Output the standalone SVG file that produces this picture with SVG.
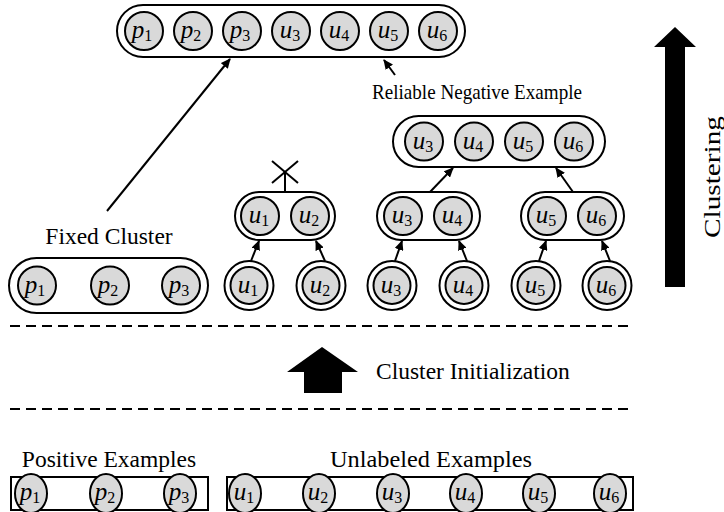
<svg xmlns="http://www.w3.org/2000/svg" width="724" height="512" viewBox="0 0 724 512">
<style>
.n{fill:#d9d9d9;stroke:#000;stroke-width:2}
.o{fill:#fff;stroke:#000;stroke-width:2}
.b{fill:none;stroke:#000;stroke-width:2}
.t{font-family:"Liberation Serif","Times New Roman",serif;font-size:23.5px;fill:#000}
.r{font-size:22px}
.v{font-family:"Liberation Serif","Times New Roman",serif;font-size:25px;font-style:italic;fill:#000;text-anchor:middle}
.s{font-style:normal;font-size:16px}
.d{stroke:#000;stroke-width:2;stroke-dasharray:10,6;fill:none}
.a{stroke:#000;stroke-width:2;fill:none;marker-end:url(#ah)}
</style>
<defs>
<marker id="ah" markerWidth="10" markerHeight="9" refX="9" refY="4.5" orient="auto" markerUnits="userSpaceOnUse"><path d="M0,0 L10,4.5 L0,9 z" fill="#000"/></marker>
<g id="c"><circle r="19" class="n"/></g>
<g id="dc"><circle r="24.5" class="o"/><circle r="18.5" class="n"/></g>
<g id="e"><ellipse rx="16" ry="19.5" class="n"/></g>
</defs>

<g id="top-cluster">
<rect x="117" y="5" width="348" height="52" rx="26" class="o"/>
<use href="#c" x="144" y="31"/><text class="v" x="142" y="38">p<tspan class="s" dy="3">1</tspan></text>
<use href="#c" x="193" y="31"/><text class="v" x="191" y="38">p<tspan class="s" dy="3">2</tspan></text>
<use href="#c" x="242" y="31"/><text class="v" x="240" y="38">p<tspan class="s" dy="3">3</tspan></text>
<use href="#c" x="291" y="31"/><text class="v" x="290" y="38">u<tspan class="s" dy="3">3</tspan></text>
<use href="#c" x="340" y="31"/><text class="v" x="339" y="38">u<tspan class="s" dy="3">4</tspan></text>
<use href="#c" x="389" y="31"/><text class="v" x="388" y="38">u<tspan class="s" dy="3">5</tspan></text>
<use href="#c" x="438" y="31"/><text class="v" x="437" y="38">u<tspan class="s" dy="3">6</tspan></text>
</g>

<g id="label-rne"><text class="t r" x="372" y="99" textLength="210" lengthAdjust="spacingAndGlyphs">Reliable Negative Example</text></g>

<g id="rne-cluster">
<rect x="393" y="116" width="212" height="51" rx="25.5" class="o"/>
<use href="#c" x="424" y="141.5"/><text class="v" x="423" y="148.5">u<tspan class="s" dy="3">3</tspan></text>
<use href="#c" x="474" y="141.5"/><text class="v" x="473" y="148.5">u<tspan class="s" dy="3">4</tspan></text>
<use href="#c" x="524" y="141.5"/><text class="v" x="523" y="148.5">u<tspan class="s" dy="3">5</tspan></text>
<use href="#c" x="574" y="141.5"/><text class="v" x="573" y="148.5">u<tspan class="s" dy="3">6</tspan></text>
</g>

<g id="pair-u1u2">
<rect x="235" y="192" width="100" height="48" rx="24" class="o"/>
<use href="#c" x="260" y="216"/><text class="v" x="259" y="223">u<tspan class="s" dy="3">1</tspan></text>
<use href="#c" x="310" y="216"/><text class="v" x="309" y="223">u<tspan class="s" dy="3">2</tspan></text>
</g>
<g id="pair-u3u4">
<rect x="377" y="192" width="103" height="48" rx="24" class="o"/>
<use href="#c" x="403" y="216"/><text class="v" x="402" y="223">u<tspan class="s" dy="3">3</tspan></text>
<use href="#c" x="453" y="216"/><text class="v" x="452" y="223">u<tspan class="s" dy="3">4</tspan></text>
</g>
<g id="pair-u5u6">
<rect x="521" y="192" width="103" height="48" rx="24" class="o"/>
<use href="#c" x="547" y="216"/><text class="v" x="546" y="223">u<tspan class="s" dy="3">5</tspan></text>
<use href="#c" x="597" y="216"/><text class="v" x="596" y="223">u<tspan class="s" dy="3">6</tspan></text>
</g>

<g id="label-fixed"><text class="t" x="109" y="244" text-anchor="middle">Fixed Cluster</text></g>
<g id="fixed-cluster">
<rect x="9" y="258" width="199" height="55" rx="27.5" class="o"/>
<use href="#c" x="37" y="285.5"/><text class="v" x="35" y="292.5">p<tspan class="s" dy="3">1</tspan></text>
<use href="#c" x="110" y="285.5"/><text class="v" x="108" y="292.5">p<tspan class="s" dy="3">2</tspan></text>
<use href="#c" x="181" y="285.5"/><text class="v" x="179" y="292.5">p<tspan class="s" dy="3">3</tspan></text>
</g>

<g id="single-u1"><use href="#dc" x="249" y="285.5"/><text class="v" x="248" y="292.5">u<tspan class="s" dy="3">1</tspan></text></g>
<g id="single-u2"><use href="#dc" x="321" y="285.5"/><text class="v" x="320" y="292.5">u<tspan class="s" dy="3">2</tspan></text></g>
<g id="single-u3"><use href="#dc" x="392" y="285.5"/><text class="v" x="391" y="292.5">u<tspan class="s" dy="3">3</tspan></text></g>
<g id="single-u4"><use href="#dc" x="464" y="285.5"/><text class="v" x="463" y="292.5">u<tspan class="s" dy="3">4</tspan></text></g>
<g id="single-u5"><use href="#dc" x="536" y="285.5"/><text class="v" x="535" y="292.5">u<tspan class="s" dy="3">5</tspan></text></g>
<g id="single-u6"><use href="#dc" x="607" y="285.5"/><text class="v" x="606" y="292.5">u<tspan class="s" dy="3">6</tspan></text></g>

<g id="connectors">
<line class="a" x1="107" y1="211" x2="230" y2="59"/>
<line class="a" x1="395" y1="75" x2="384" y2="60"/>
<line class="a" x1="430" y1="192" x2="453" y2="168"/>
<line class="a" x1="573" y1="192" x2="556" y2="168"/>
<line class="a" x1="251" y1="261" x2="259" y2="241"/>
<line class="a" x1="325" y1="261" x2="316" y2="241"/>
<line class="a" x1="395" y1="261" x2="402" y2="241"/>
<line class="a" x1="467" y1="261" x2="459" y2="241"/>
<line class="a" x1="539" y1="261" x2="546" y2="241"/>
<line class="a" x1="610" y1="261" x2="602" y2="241"/>
<line class="b" x1="285" y1="192" x2="285" y2="172"/>
<line class="b" x1="272" y1="161" x2="298" y2="183"/>
<line class="b" x1="272" y1="183" x2="298" y2="161"/>
</g>

<g id="dividers">
<line class="d" x1="10" y1="326" x2="632" y2="326"/>
<line class="d" x1="10" y1="409" x2="632" y2="409"/>
</g>

<g id="cluster-init">
<polygon points="322,347 358,372 342,372 342,393 304,393 304,372 287,372" fill="#000"/>
<text class="t" x="376" y="379">Cluster Initialization</text>
</g>

<g id="clustering">
<polygon points="675,27 696,47 685,47 685,287 665,287 665,47 654,47" fill="#000"/>
<text class="t" transform="translate(720,177) rotate(-90)" text-anchor="middle" textLength="122" lengthAdjust="spacingAndGlyphs">Clustering</text>
</g>

<g id="positive">
<text class="t" x="109" y="467" text-anchor="middle">Positive Examples</text>
<rect x="11" y="477" width="197" height="33" class="b"/>
<use href="#e" x="31" y="493.5"/><text class="v" x="30" y="500">p<tspan class="s" dy="3">1</tspan></text>
<use href="#e" x="106" y="493.5"/><text class="v" x="105" y="500">p<tspan class="s" dy="3">2</tspan></text>
<use href="#e" x="180" y="493.5"/><text class="v" x="179" y="500">p<tspan class="s" dy="3">3</tspan></text>
</g>

<g id="unlabeled">
<text class="t" x="431" y="467" text-anchor="middle" textLength="202" lengthAdjust="spacingAndGlyphs">Unlabeled Examples</text>
<rect x="227" y="477" width="406" height="33" class="b"/>
<use href="#e" x="245" y="493.5"/><text class="v" x="244" y="500">u<tspan class="s" dy="3">1</tspan></text>
<use href="#e" x="319" y="493.5"/><text class="v" x="318" y="500">u<tspan class="s" dy="3">2</tspan></text>
<use href="#e" x="393" y="493.5"/><text class="v" x="392" y="500">u<tspan class="s" dy="3">3</tspan></text>
<use href="#e" x="466" y="493.5"/><text class="v" x="465" y="500">u<tspan class="s" dy="3">4</tspan></text>
<use href="#e" x="539" y="493.5"/><text class="v" x="538" y="500">u<tspan class="s" dy="3">5</tspan></text>
<use href="#e" x="610" y="493.5"/><text class="v" x="609" y="500">u<tspan class="s" dy="3">6</tspan></text>
</g>
</svg>
